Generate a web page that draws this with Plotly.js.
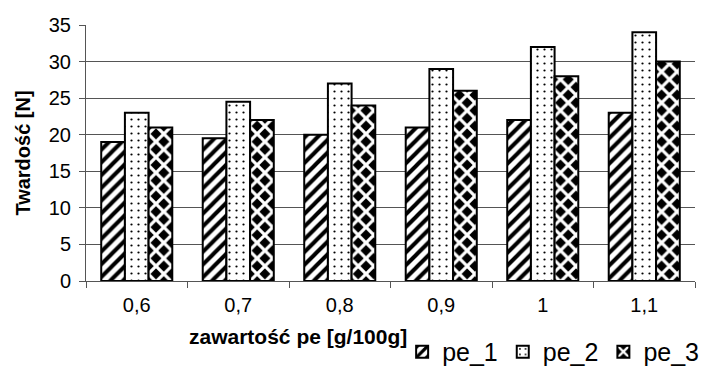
<!DOCTYPE html>
<html><head><meta charset="utf-8">
<script src="https://cdn.plot.ly/plotly-3.0.1.min.js"></script>
<style>html,body{margin:0;padding:0;background:#fff}</style>
</head><body>
<div id="chart" style="width:701px;height:370px"></div>
<script>
const categories = ["0,6", "0,7", "0,8", "0,9", "1", "1,1"];
const pe1 = [19, 19.5, 20, 21, 22, 23];
const pe2 = [23, 24.5, 27, 29, 32, 34];
const pe3 = [21, 22, 24, 26, 28, 30];
const seriesNames = ["pe_1", "pe_2", "pe_3"];
const yTicks = [0, 5, 10, 15, 20, 25, 30, 35];

const line = {color: "#000", width: 2};
const traces = [
  {type: "bar", name: seriesNames[0], x: categories, y: pe1,
   marker: {color: "#fff", line: line, pattern: {shape: "/", fgcolor: "#000", bgcolor: "#fff", size: 9, solidity: 0.45}}},
  {type: "bar", name: seriesNames[1], x: categories, y: pe2,
   marker: {color: "#fff", line: line, pattern: {shape: ".", fgcolor: "#000", bgcolor: "#fff", size: 7, solidity: 0.08}}},
  {type: "bar", name: seriesNames[2], x: categories, y: pe3,
   marker: {color: "#000", line: line, pattern: {shape: "x", fgcolor: "#fff", bgcolor: "#000", size: 11, solidity: 0.5}}}
];

const layout = {
  width: 701, height: 370,
  margin: {l: 86, r: 6, t: 25, b: 89, autoexpand: false},
  paper_bgcolor: "#fff", plot_bgcolor: "#fff",
  font: {family: "Liberation Sans, Arial, sans-serif", color: "#000"},
  barmode: "group", bargap: 0.3, bargroupgap: 0,
  showlegend: true,
  legend: {orientation: "h", x: 1.015, xanchor: "right", y: -0.277, yanchor: "middle",
           font: {size: 25}, itemwidth: 20, tracegroupgap: 0, bgcolor: "rgba(0,0,0,0)"},
  xaxis: {type: "category", tickson: "boundaries", ticks: "outside", ticklen: 6, tickcolor: "#555",
          showline: true, linecolor: "#555", linewidth: 1, showgrid: false, automargin: false,
          tickfont: {size: 20}, ticklabelstandoff: 6},
  yaxis: {range: [0, 35], tickvals: yTicks, ticks: "outside", ticklen: 6, tickcolor: "#555",
          showline: true, linecolor: "#555", linewidth: 1, showgrid: true, gridcolor: "#555", gridwidth: 1,
          zeroline: false, tickfont: {size: 20}, ticklabelstandoff: 4, automargin: false,
          title: {text: "<b>Twardość [N]</b>", font: {size: 20}, standoff: 12}},
  annotations: [{text: "<b>zawartość pe [g/100g]</b>", xref: "paper", yref: "paper",
                 x: (298 - 86) / 609, y: (281 - 336) / 256, xanchor: "center", yanchor: "middle",
                 showarrow: false, font: {size: 21}}]
};

Plotly.newPlot("chart", traces, layout, {displayModeBar: false, staticPlot: true});
</script>
</body></html>
